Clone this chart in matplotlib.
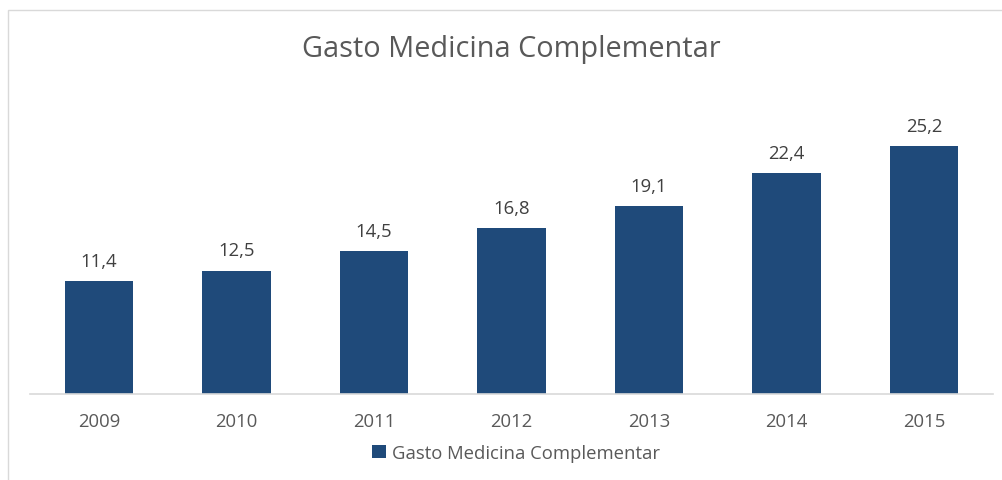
import matplotlib
matplotlib.use("Agg")
import matplotlib.pyplot as plt
from matplotlib.patches import Rectangle, Patch

years = ["2009", "2010", "2011", "2012", "2013", "2014", "2015"]
values = [11.4, 12.5, 14.5, 16.8, 19.1, 22.4, 25.2]
labels = ["11,4", "12,5", "14,5", "16,8", "19,1", "22,4", "25,2"]
title = "Gasto Medicina Complementar"
series_name = "Gasto Medicina Complementar"

plt.rcParams['font.family'] = ['Open Sans', 'DejaVu Sans']
W, H = 1003, 481
fig = plt.figure(figsize=(W / 100, H / 100), dpi=100)
fig.patch.set_facecolor("white")

# chart frame (extends beyond the image on right/bottom)
fig.patches.append(Rectangle((8 / W, -0.1), 1.2, 1 - 11 / H + 0.1, transform=fig.transFigure,
                             fill=False, edgecolor="#D9D9D9", linewidth=1.0))

ax = fig.add_axes([30.25 / W, (H - 394.5) / H, 962.5 / W, 295 / H])
bar_color = "#1F4A7A"
x = range(len(years))
bars = ax.bar(x, values, width=0.495, color=bar_color, zorder=2)
ax.set_xlim(-0.5, len(years) - 0.5)
ax.set_ylim(0, 30)
for xi, v, lab in zip(x, values, labels):
    ax.annotate(lab, (xi, v), xytext=(0, 8), textcoords="offset points",
                ha="center", va="bottom", fontsize=13.3, color="#404040")
ax.set_xticks(list(x))
ax.set_xticklabels(years, fontsize=13.3, color="#595959")
ax.tick_params(axis="x", length=0, pad=13)
ax.set_yticks([])
for s in ["top", "right", "left"]:
    ax.spines[s].set_visible(False)
ax.spines["bottom"].set_color("#D9D9D9")
ax.spines["bottom"].set_linewidth(1.2)

fig.text(511 / W, 1 - 50 / H, title, ha="center", va="center", fontsize=20.8, color="#595959")

leg = fig.legend(handles=[Patch(facecolor=bar_color, label=series_name)],
                 loc="center", bbox_to_anchor=(516 / W, 1 - 454 / H), frameon=False,
                 fontsize=13.3, handlelength=0.75, handleheight=0.75, handletextpad=0.3,
                 labelcolor="#595959")

fig.savefig("out.png", dpi=100)
